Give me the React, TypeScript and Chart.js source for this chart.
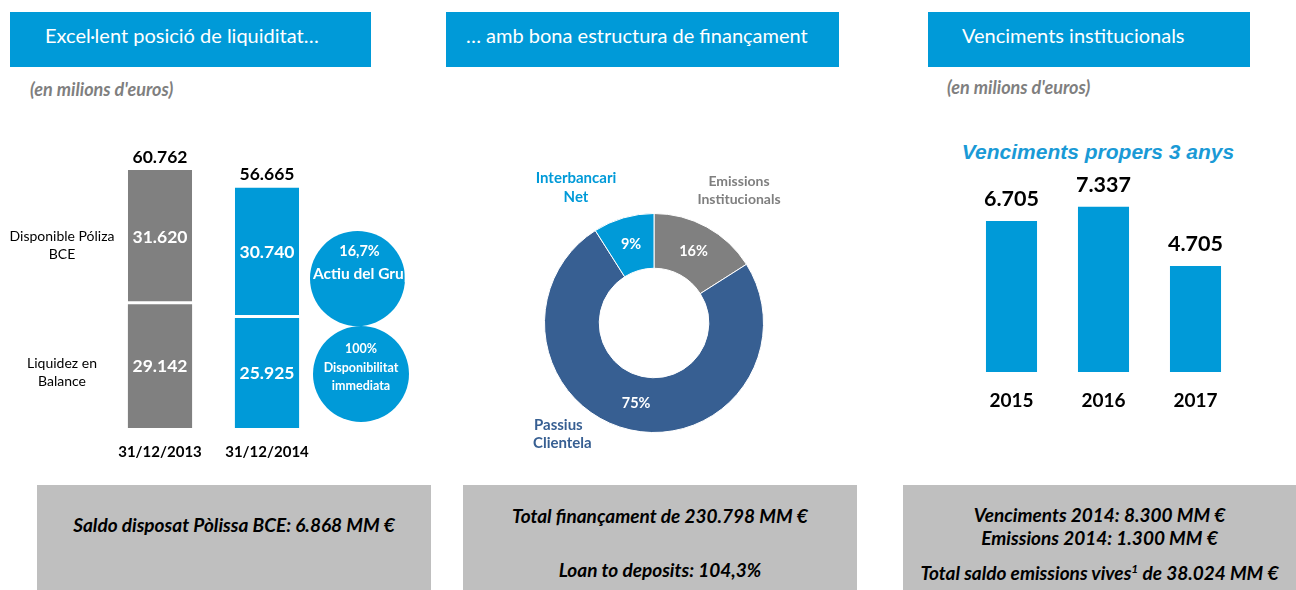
import React, { useEffect, useRef } from "react";
import { Chart, registerables } from "chart.js";
Chart.register(...registerables);

// ---- data ----
const liqCategories = ["31/12/2013", "31/12/2014"];
const liqPolizaName = ["Disponible Póliza", "BCE"];
const liqBalanceName = ["Liquidez en", "Balance"];
const liqBalance = [29142, 25925];
const liqPoliza = [31620, 30740];

const fundLabels = [["Emissions", "Institucionals"], ["Passius", "Clientela"], ["Interbancari", "Net"]];
const fundValues = [16, 75, 9];

const matYears = ["2015", "2016", "2017"];
const matValues = [6705, 7337, 4705];

// ---- styles ----
const BLUE = "#009AD8";
const GREY = "#808080";
const DARK = "#375F92";
const FONT = "Lato, 'Open Sans', sans-serif";

const fmt = (n: number) => String(n).replace(/\B(?=(\d{3})+(?!\d))/g, ".");

export default function App() {
  const liqRef = useRef<HTMLCanvasElement>(null);
  const fundRef = useRef<HTMLCanvasElement>(null);
  const matRef = useRef<HTMLCanvasElement>(null);

  useEffect(() => {
    const charts: Chart[] = [];

    // Left: stacked liquidity bars
    const liqPlugin = {
      id: "liqLabels",
      afterDatasetsDraw(chart: any) {
        const ctx = chart.ctx;
        const m0 = chart.getDatasetMeta(0);
        const m1 = chart.getDatasetMeta(1);
        ctx.save();
        ctx.textAlign = "center";
        ctx.textBaseline = "middle";
        for (let i = 0; i < liqCategories.length; i++) {
          const b = m0.data[i];
          const t = m1.data[i];
          ctx.fillStyle = "#fff";
          ctx.font = `bold 17.5px ${FONT}`;
          ctx.fillText(fmt(liqBalance[i]), b.x, (b.y + b.base) / 2);
          ctx.fillText(fmt(liqPoliza[i]), t.x, (t.y + t.base) / 2);
          ctx.fillStyle = "#000";
          ctx.fillText(fmt(liqBalance[i] + liqPoliza[i]), t.x, t.y - 13);
          ctx.font = `bold 15px ${FONT}`;
          ctx.fillText(liqCategories[i], chart.scales.x.getPixelForValue(i), chart.chartArea.bottom + 24);
        }
        ctx.font = `14px ${FONT}`;
        ctx.fillStyle = "#000";
        const b0 = m0.data[0];
        const t0 = m1.data[0];
        const cB = (b0.y + b0.base) / 2;
        const cT = (t0.y + t0.base) / 2;
        ctx.fillText(liqPolizaName[0], 62, cT - 1);
        ctx.fillText(liqPolizaName[1], 62, cT + 17);
        ctx.fillText(liqBalanceName[0], 62, cB - 3);
        ctx.fillText(liqBalanceName[1], 62, cB + 15);
        ctx.restore();
      },
    };
    charts.push(
      new Chart(liqRef.current!, {
        type: "bar",
        data: {
          labels: liqCategories,
          datasets: [
            { label: liqBalanceName.join(" "), data: liqBalance, backgroundColor: [GREY, BLUE], borderWidth: 0 },
            {
              label: liqPolizaName.join(" "),
              data: liqPoliza,
              backgroundColor: [GREY, BLUE],
              borderColor: "#fff",
              borderWidth: { top: 0, left: 0, right: 0, bottom: 3 },
              borderSkipped: false,
            },
          ],
        },
        options: {
          animation: false,
          responsive: false,
          devicePixelRatio: 1,
          layout: { padding: { left: 106.5, right: 119.5, top: 20, bottom: 42 } },
          datasets: { bar: { barPercentage: 1, categoryPercentage: 0.6 } },
          scales: {
            x: { display: false, stacked: true },
            y: { display: false, stacked: true, min: 0, max: 65500 },
          },
          plugins: { legend: { display: false }, tooltip: { enabled: false } },
        },
        plugins: [liqPlugin],
      } as any)
    );

    // Middle: doughnut
    const fundPlugin = {
      id: "fundLabels",
      afterDatasetsDraw(chart: any) {
        const ctx = chart.ctx;
        const meta = chart.getDatasetMeta(0);
        ctx.save();
        ctx.textAlign = "center";
        ctx.textBaseline = "middle";
        ctx.fillStyle = "#fff";
        ctx.font = `bold 14.5px ${FONT}`;
        meta.data.forEach((arc: any, i: number) => {
          const p = arc.tooltipPosition();
          ctx.fillText(fundValues[i] + "%", p.x, p.y);
        });
        const a = meta.data[0];
        const cx = a.x;
        const cy = a.y;
        ctx.font = `bold 14px ${FONT}`;
        ctx.fillStyle = "#7F7F7F";
        ctx.fillText(fundLabels[0][0], cx + 85, cy - 142);
        ctx.fillText(fundLabels[0][1], cx + 85, cy - 124);
        ctx.fillStyle = BLUE;
        ctx.font = `bold 15px ${FONT}`;
        ctx.fillText(fundLabels[2][0], cx - 78, cy - 145);
        ctx.fillText(fundLabels[2][1], cx - 78, cy - 126);
        ctx.fillStyle = DARK;
        ctx.textAlign = "left";
        ctx.fillText(fundLabels[1][0], cx - 120, cy + 102);
        ctx.fillText(fundLabels[1][1], cx - 121, cy + 120);
        ctx.restore();
      },
    };
    charts.push(
      new Chart(fundRef.current!, {
        type: "doughnut",
        data: {
          labels: fundLabels.map((l) => l.join(" ")),
          datasets: [{ data: fundValues, backgroundColor: [GREY, DARK, BLUE], borderColor: "#fff", borderWidth: 1 }],
        },
        options: {
          animation: false,
          responsive: false,
          devicePixelRatio: 1,
          cutout: "50%",
          layout: { padding: { left: 104, right: 106, top: 83, bottom: 37 } },
          plugins: { legend: { display: false }, tooltip: { enabled: false } },
        },
        plugins: [fundPlugin],
      } as any)
    );

    // Right: maturities bars
    const matPlugin = {
      id: "matLabels",
      afterDatasetsDraw(chart: any) {
        const ctx = chart.ctx;
        const meta = chart.getDatasetMeta(0);
        ctx.save();
        ctx.textAlign = "center";
        ctx.textBaseline = "middle";
        ctx.fillStyle = "#000";
        meta.data.forEach((b: any, i: number) => {
          ctx.font = `bold 21.5px ${FONT}`;
          ctx.fillText(fmt(matValues[i]), b.x, b.y - 22);
          ctx.font = `bold 19px ${FONT}`;
          ctx.fillText(matYears[i], b.x, chart.chartArea.bottom + 29);
        });
        ctx.restore();
      },
    };
    charts.push(
      new Chart(matRef.current!, {
        type: "bar",
        data: {
          labels: matYears,
          datasets: [{ data: matValues, backgroundColor: BLUE, borderWidth: 0 }],
        },
        options: {
          animation: false,
          responsive: false,
          devicePixelRatio: 1,
          layout: { padding: { left: 85.5, right: 54.5, top: 11, bottom: 48 } },
          datasets: { bar: { barPercentage: 1, categoryPercentage: 0.555 } },
          scales: {
            x: { display: false },
            y: { display: false, min: 0, max: 8480 },
          },
          plugins: { legend: { display: false }, tooltip: { enabled: false } },
        },
        plugins: [matPlugin],
      } as any)
    );

    return () => charts.forEach((c) => c.destroy());
  }, []);

  const abs = (l: number, t: number, w: number, h: number): React.CSSProperties => ({
    position: "absolute",
    left: l,
    top: t,
    width: w,
    height: h,
  });

  const header = (l: number, w: number, pad: number, text: string) => (
    <div
      style={{
        ...abs(l, 12, w, 55),
        background: BLUE,
        color: "#fff",
        fontFamily: FONT,
        fontSize: 20,
        lineHeight: "46px",
        paddingLeft: pad,
        boxSizing: "border-box",
        whiteSpace: "nowrap",
      }}
    >
      {text}
    </div>
  );

  const note: React.CSSProperties = {
    position: "absolute",
    fontFamily: FONT,
    fontSize: 18,
    lineHeight: "22px",
    fontWeight: "bold",
    fontStyle: "italic",
    color: "#7F7F7F",
    whiteSpace: "nowrap",
  };

  const footer = (l: number, w: number, lines: { t: number; node: React.ReactNode }[]) => (
    <div style={{ ...abs(l, 485, w, 110), background: "#BFBFBF" }}>
      {lines.map((ln, i) => (
        <div
          key={i}
          style={{
            position: "absolute",
            left: 0,
            width: w,
            top: ln.t - 485 - 12,
            height: 24,
            lineHeight: "24px",
            textAlign: "center",
            fontFamily: FONT,
            fontSize: 19,
            fontWeight: "bold",
            fontStyle: "italic",
            color: "#000",
            whiteSpace: "nowrap",
          }}
        >
          {ln.node}
        </div>
      ))}
    </div>
  );

  const circle = (
    l: number,
    t: number,
    d: number,
    lines: { y: number; size: number; text: string; dx?: number }[]
  ) => (
    <div style={{ ...abs(l, t, d, d), borderRadius: "50%", background: BLUE, overflow: "hidden" }}>
      {lines.map((ln, i) => (
        <div
          key={i}
          style={{
            position: "absolute",
            left: ln.dx ?? 0,
            width: d,
            top: ln.y - t - 10,
            height: 20,
            lineHeight: "20px",
            textAlign: "center",
            fontFamily: FONT,
            fontSize: ln.size,
            fontWeight: "bold",
            color: "#fff",
            whiteSpace: "nowrap",
          }}
        >
          {ln.text}
        </div>
      ))}
    </div>
  );

  return (
    <div style={{ position: "absolute", left: 0, top: 0, width: 1296, height: 590, overflow: "hidden", background: "#fff" }}>
      {header(10, 361, 35, "Excel·lent posició de liquiditat…")}
      {header(446, 393, 20, "… amb bona estructura de finançament")}
      {header(928, 322, 34, "Venciments institucionals")}

      <div style={{ ...note, left: 30, top: 78 }}>(en milions d'euros)</div>
      <div style={{ ...note, left: 947, top: 76 }}>(en milions d'euros)</div>

      <canvas ref={liqRef} width={440} height={340} style={{ ...abs(0, 130, 440, 340) }} />
      {circle(310, 231, 95, [
        { y: 251, size: 14.5, text: "16,7%", dx: 2 },
        { y: 273, size: 15.5, text: "Actiu del Grup", dx: 3 },
      ])}
      {circle(313, 326, 96, [
        { y: 349, size: 12.5, text: "100%" },
        { y: 368, size: 12.5, text: "Disponibilitat" },
        { y: 386, size: 12.5, text: "immediata" },
      ])}

      <canvas ref={fundRef} width={430} height={340} style={{ ...abs(440, 130, 430, 340) }} />

      <div
        style={{
          position: "absolute",
          left: 900,
          width: 396,
          top: 140,
          height: 24,
          lineHeight: "24px",
          textAlign: "center",
          fontFamily: "'Liberation Sans', Arial, sans-serif",
          fontSize: 21,
          fontWeight: "bold",
          fontStyle: "italic",
          color: "#1A9AD6",
          whiteSpace: "nowrap",
        }}
      >
        Venciments propers 3 anys
      </div>
      <canvas ref={matRef} width={416} height={250} style={{ ...abs(880, 170, 416, 250) }} />

      {footer(37, 394, [{ t: 525, node: "Saldo disposat Pòlissa BCE: 6.868 MM €" }])}
      {footer(463, 394, [
        { t: 516, node: "Total finançament de 230.798 MM €" },
        { t: 570, node: "Loan to deposits: 104,3%" },
      ])}
      {footer(903, 393, [
        { t: 515, node: "Venciments 2014: 8.300 MM €" },
        { t: 538, node: "Emissions 2014: 1.300 MM €" },
        {
          t: 573,
          node: (
            <span>
              Total saldo emissions vives<sup style={{ fontSize: 12, verticalAlign: "7px", lineHeight: 0 }}>1</sup> de 38.024 MM €
            </span>
          ),
        },
      ])}
    </div>
  );
}
